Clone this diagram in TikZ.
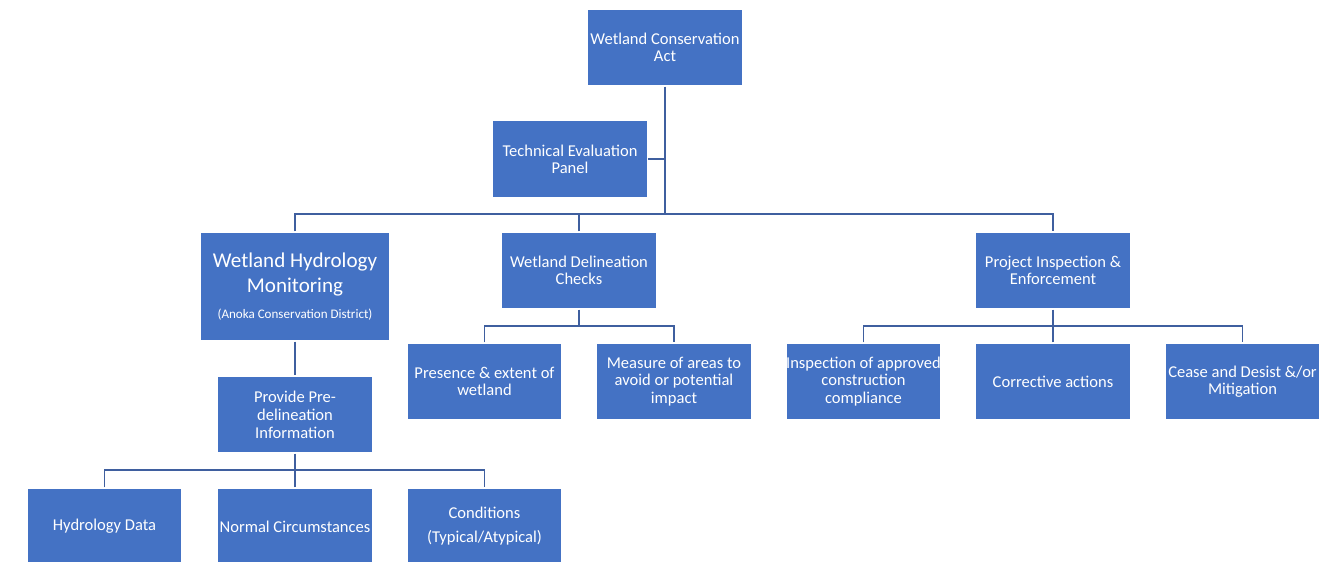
\documentclass[tikz,border=0pt]{standalone}
\usepackage{fontspec}
\setmainfont{Carlito}
\usetikzlibrary{positioning,calc}
\definecolor{boxblue}{HTML}{4472C4}
\definecolor{linkblue}{HTML}{3F5F9F}

\begin{document}
\begin{tikzpicture}[x=0.75pt,y=-0.75pt,
    box/.style={rectangle,fill=boxblue,draw=white,line width=0.8pt,text=white,
      align=center,inner sep=0pt,minimum width=116pt,minimum height=57.75pt,
      font=\fontsize{12.4}{12.9}\selectfont},
    link/.style={draw=linkblue,line width=1.1pt}]
      \useasboundingbox (0,0) rectangle (1336,561);
      \clip (0,0) rectangle (1336,561);
      % top of the tree
      \node[box] (wca) at (665,47.5) {Wetland Conservation\\Act};
      \node[box] (tep) at (570,159) {Technical Evaluation\\Panel};
      % second row
      \node[box,minimum width=142.5pt,minimum height=81.75pt,
        font=\fontsize{15.8}{18.8}\selectfont] (whm) at (295,286.5)
        {Wetland Hydrology\\Monitoring\\[1pt]{\fontsize{9.8}{11}\selectfont (Anoka Conservation District)}};
      \node[box] (wdc) at (579,270.5) {Wetland Delineation\\Checks};
      \node[box] (pie) at (1053,270.5) {Project Inspection \&\\Enforcement};
      % third row
      \node[box] (presence) at (484.5,381.5) {Presence \& extent of\\wetland};
      \node[box] (measure) at (674,381.5) {Measure of areas to\\avoid or potential\\impact};
      \node[box] (inspect) at (863.5,381.5) {Inspection of approved\\construction\\compliance};
      \node[box] (corrective) at (1053,381.5) {Corrective actions};
      \node[box] (cease) at (1242.5,381.5) {Cease and Desist \&/or\\Mitigation};
      \node[box,font=\fontsize{12.4}{13.5}\selectfont] (provide) at (295,414.5) {Provide Pre-\\delineation\\Information};
      % bottom row
      \node[box] (hydro) at (104.5,526.5) {Hydrology Data};
      \node[box] (normal) at (295,526.5) {Normal Circumstances};
      \node[box,font=\fontsize{12.4}{18}\selectfont] (cond) at (484.5,526.5) {Conditions\\(Typical/Atypical)};
      % connectors
      \coordinate (bus1) at (665,214);
      \coordinate (bus2) at (579,326);
      \coordinate (bus3) at (1053,326);
      \coordinate (bus4) at (295,470);
      \draw[link] (wca) -- (bus1);
      \draw[link] (tep.east) -- (tep.east -| wca);
      \draw[link] (whm.north) |- (bus1) -| (pie.north);
      \draw[link] (wdc.north) -- (wdc.north |- bus1);
      \draw[link] (wdc) -- (bus2);
      \draw[link] (presence.north) |- (bus2) -| (measure.north);
      \draw[link] (pie) -- (bus3);
      \draw[link] (inspect.north) |- (bus3) -| (cease.north);
      \draw[link] (corrective.north) -- (bus3);
      \draw[link] (whm) -- (provide);
      \draw[link] (provide) -- (bus4);
      \draw[link] (hydro.north) |- (bus4) -| (cond.north);
      \draw[link] (normal.north) -- (bus4);
    \end{tikzpicture}
\end{document}
